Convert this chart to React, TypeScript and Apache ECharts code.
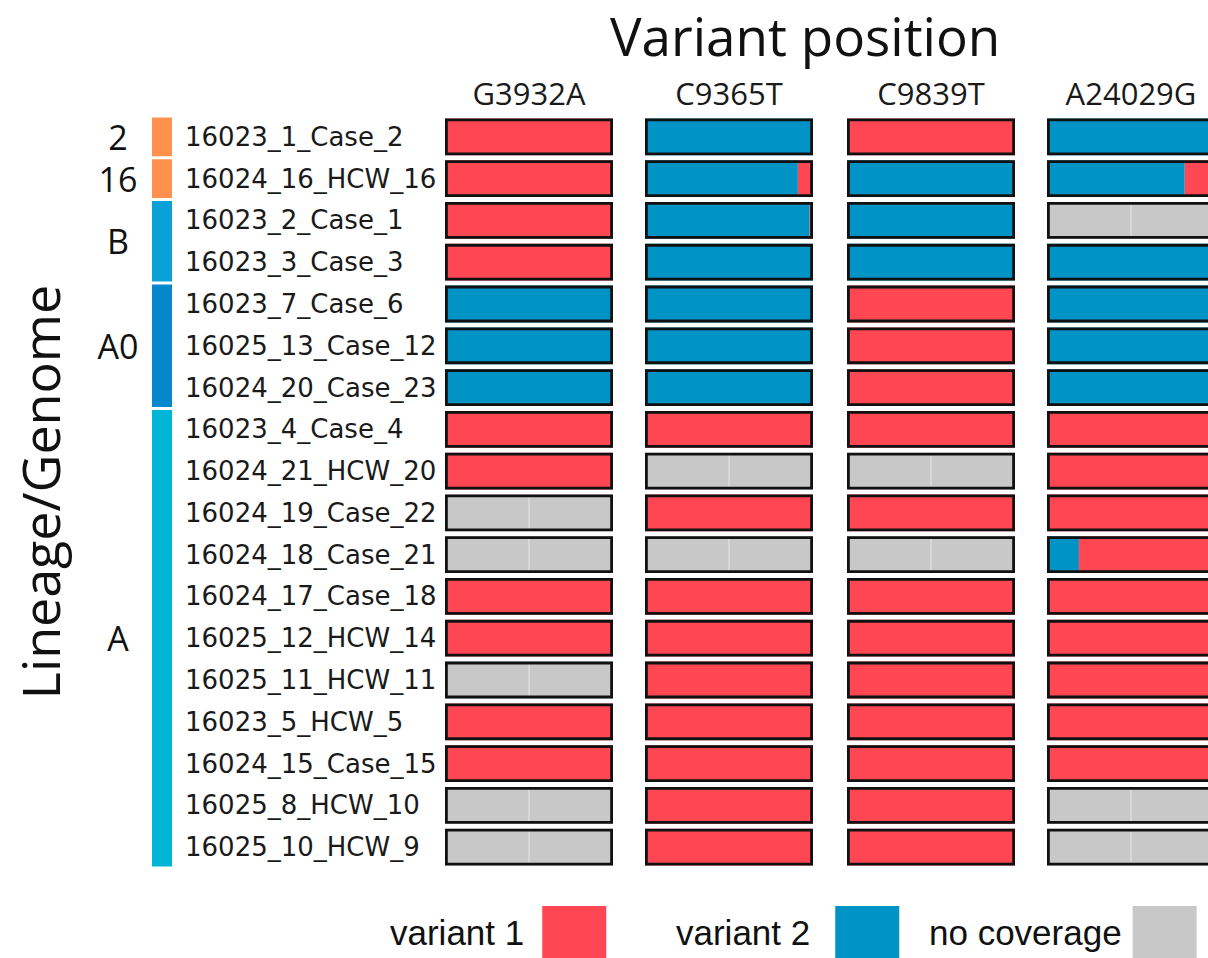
import React, { useEffect, useRef } from "react";
import * as echarts from "echarts";

const genomes = [
  "16023_1_Case_2",
  "16024_16_HCW_16",
  "16023_2_Case_1",
  "16023_3_Case_3",
  "16023_7_Case_6",
  "16025_13_Case_12",
  "16024_20_Case_23",
  "16023_4_Case_4",
  "16024_21_HCW_20",
  "16024_19_Case_22",
  "16024_18_Case_21",
  "16024_17_Case_18",
  "16025_12_HCW_14",
  "16025_11_HCW_11",
  "16023_5_HCW_5",
  "16024_15_Case_15",
  "16025_8_HCW_10",
  "16025_10_HCW_9",
];

const lineage = ["2", "16", "B", "B", "A0", "A0", "A0", "A", "A", "A", "A", "A", "A", "A", "A", "A", "A", "A"];

const positions = ["G3932A", "C9365T", "C9839T", "A24029G"];

const legendNames = ["variant 1", "variant 2", "no coverage"];

// fraction of reads: variant 1, variant 2, no coverage (per genome row)
const v1_G3932A = [1, 1, 1, 1, 0, 0, 0, 1, 0.99, 0, 0, 1, 1, 0, 1, 1, 0, 0];
const v2_G3932A = [0, 0, 0, 0, 1, 1, 1, 0, 0.01, 0, 0, 0, 0, 0, 0, 0, 0, 0];
const nc_G3932A = [0, 0, 0, 0, 0, 0, 0, 0, 0, 1, 1, 0, 0, 1, 0, 0, 1, 1];

const v1_C9365T = [0, 0.09, 0.02, 0, 0, 0, 0, 1, 0, 1, 0, 1, 1, 1, 1, 1, 1, 1];
const v2_C9365T = [1, 0.91, 0.98, 1, 1, 1, 1, 0, 0, 0, 0, 0, 0, 0, 0, 0, 0, 0];
const nc_C9365T = [0, 0, 0, 0, 0, 0, 0, 0, 1, 0, 1, 0, 0, 0, 0, 0, 0, 0];

const v1_C9839T = [1, 0.015, 0, 0, 1, 1, 1, 1, 0, 1, 0, 1, 1, 1, 1, 1, 1, 1];
const v2_C9839T = [0, 0.985, 1, 1, 0, 0, 0, 0, 0, 0, 0, 0, 0, 0, 0, 0, 0, 0];
const nc_C9839T = [0, 0, 0, 0, 0, 0, 0, 0, 1, 0, 1, 0, 0, 0, 0, 0, 0, 0];

const v1_A24029G = [0, 0.18, 0, 0, 0, 0, 0, 1, 1, 1, 0.81, 1, 1, 1, 1, 1, 0, 0];
const v2_A24029G = [1, 0.82, 0, 1, 1, 1, 1, 0, 0, 0, 0.19, 0, 0, 0, 0, 0, 0, 0];
const nc_A24029G = [0, 0, 1, 0, 0, 0, 0, 0, 0, 0, 0, 0, 0, 0, 0, 0, 1, 1];

const variant1 = [v1_G3932A, v1_C9365T, v1_C9839T, v1_A24029G];
const variant2 = [v2_G3932A, v2_C9365T, v2_C9839T, v2_A24029G];
const noCoverage = [nc_G3932A, nc_C9365T, nc_C9839T, nc_A24029G];

const RED = "#FF4754";
const BLUE = "#0094C6";
const GREY = "#C8C8C8";
const lineageColor: Record<string, string> = {
  "2": "#FF914D",
  "16": "#FF914D",
  B: "#0AA2D6",
  A0: "#0587CB",
  A: "#00B5D5",
};

const panelLeft = [445, 645, 847, 1047];
const panelWidth = 168;
const gridTop = 116;
const gridHeight = 752;

function lineageGroups() {
  const groups: { start: number; end: number; name: string }[] = [];
  lineage.forEach((l, i) => {
    const g = groups[groups.length - 1];
    if (g && g.name === l) g.end = i;
    else groups.push({ start: i, end: i, name: l });
  });
  return groups;
}

export default function App() {
  const ref = useRef<HTMLDivElement>(null);
  useEffect(() => {
    if (!ref.current) return;
    const chart = echarts.init(ref.current, null, { renderer: "svg" });
    const groups = lineageGroups();

    const grids: any[] = panelLeft.map((l) => ({
      left: l,
      top: gridTop,
      width: panelWidth,
      height: gridHeight,
    }));
    grids.push({ left: 152, top: gridTop, width: 20, height: gridHeight });

    const xAxes: any[] = positions.map((p, i) => ({
      gridIndex: i,
      type: "value",
      min: 0,
      max: 1,
      position: "top",
      name: p,
      nameLocation: "middle",
      nameGap: 8,
      nameTextStyle: { fontFamily: "Open Sans", fontSize: 31, lineHeight: 30, color: "#1a1a1a" },
      axisLine: { show: false },
      axisTick: { show: false },
      axisLabel: { show: false },
      splitLine: { show: false },
    }));
    xAxes.push({ gridIndex: 4, type: "value", min: 0, max: 1, show: false });

    const yAxes: any[] = positions.map((p, i) => ({
      gridIndex: i,
      type: "category",
      data: genomes,
      inverse: true,
      axisLine: { show: false },
      axisTick: { show: false },
      axisLabel:
        i === 0
          ? {
              show: true,
              fontFamily: "DejaVu Sans",
              fontSize: 26,
              color: "#1a1a1a",
              margin: 260,
              align: "left",
            }
          : { show: false },
      splitLine: { show: false },
      name: i === 0 ? "Lineage/Genome" : "",
      nameLocation: "middle",
      nameRotate: 90,
      nameGap: 380,
      nameTextStyle: { fontFamily: "Open Sans", fontSize: 52, color: "#111" },
    }));
    yAxes.push({ gridIndex: 4, type: "category", data: genomes, inverse: true, show: false });

    const series: any[] = [];
    positions.forEach((p, i) => {
      const common = {
        type: "bar",
        stack: "p" + i,
        xAxisIndex: i,
        yAxisIndex: i,
        barWidth: "88%",
        barGap: "-100%",
        silent: true,
      };
      series.push({ ...common, name: "variant 2", data: variant2[i], itemStyle: { color: BLUE } });
      series.push({ ...common, name: "variant 1", data: variant1[i], itemStyle: { color: RED } });
      series.push({ ...common, name: "no coverage", data: noCoverage[i], itemStyle: { color: GREY } });
      series.push({
        type: "scatter",
        name: "mid",
        xAxisIndex: i,
        yAxisIndex: i,
        silent: true,
        symbol: "rect",
        symbolSize: [1.5, 34],
        itemStyle: { color: "#E4E4E4" },
        data: noCoverage[i].map((v, r) => (v >= 0.5 ? [0.5, r] : null)).filter((d) => d !== null),
        z: 2,
      });
      series.push({
        type: "bar",
        name: "outline",
        stack: "o" + i,
        xAxisIndex: i,
        yAxisIndex: i,
        barWidth: "88%",
        barGap: "-100%",
        silent: true,
        data: genomes.map((_, r) => variant1[i][r] + variant2[i][r] + noCoverage[i][r]),
        itemStyle: { color: "rgba(0,0,0,0)", borderColor: "#111", borderWidth: 2.8 },
        z: 3,
      });
    });

    series.push({
      type: "custom",
      name: "lineage",
      xAxisIndex: 4,
      yAxisIndex: 4,
      silent: true,
      clip: false,
      data: groups.map((g) => [g.start, g.end]),
      renderItem: (params: any, api: any) => {
        const g = groups[params.dataIndex];
        const band = api.size([0, 1])[1];
        const y0 = api.coord([0, g.start])[1] - band / 2 + 1.5;
        const y1 = api.coord([0, g.end])[1] + band / 2 - 1.5;
        const x0 = params.coordSys.x;
        const w = params.coordSys.width;
        return {
          type: "group",
          children: [
            {
              type: "rect",
              shape: { x: x0, y: y0, width: w, height: y1 - y0 },
              style: { fill: lineageColor[g.name] },
            },
            {
              type: "text",
              style: {
                text: g.name,
                x: 118,
                y: (y0 + y1) / 2,
                align: "center",
                verticalAlign: "middle",
                fontFamily: "Open Sans",
                fontSize: 34,
                fill: "#111",
              },
            },
          ],
        };
      },
    });

    const legendLeft = [390, 676, 929];
    const legendPad = [13, 20, 6];
    const legends = legendNames.map((n, i) => ({
      data: [n],
      left: legendLeft[i],
      top: 906,
      padding: 0,
      align: "right",
      icon: "rect",
      itemWidth: 64,
      itemHeight: 52,
      selectedMode: false,
      textStyle: {
        fontFamily: "'Liberation Sans', Arial, sans-serif",
        fontSize: 35,
        color: "#111",
        padding: [0, legendPad[i], 0, 0],
      },
    }));

    chart.setOption({
      animation: false,
      backgroundColor: "#ffffff",
      title: {
        text: "Variant position",
        left: 610,
        top: 7,
        padding: 0,
        textStyle: {
          fontFamily: "Open Sans",
          fontSize: 53,
          lineHeight: 56,
          fontWeight: "normal",
          color: "#111",
        },
      },
      legend: legends,
      grid: grids,
      xAxis: xAxes,
      yAxis: yAxes,
      series,
    });
    return () => chart.dispose();
  }, []);
  return (
    <div style={{ position: "absolute", left: 0, top: 0, width: 1208, height: 958, overflow: "hidden" }}>
      <div ref={ref} style={{ width: 1224, height: 958 }} />
    </div>
  );
}
